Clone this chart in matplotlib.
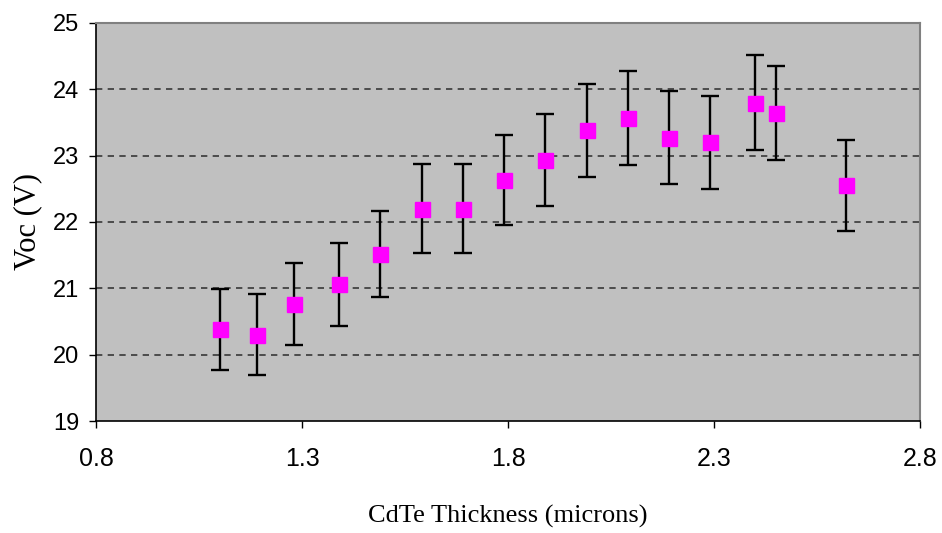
import matplotlib
matplotlib.use("Agg")
from matplotlib import pyplot as plt

thickness = [1.10, 1.19, 1.28, 1.39, 1.49, 1.59, 1.69, 1.79, 1.89, 1.99, 2.09, 2.19, 2.29, 2.40, 2.45, 2.62]
voc = [20.38, 20.30, 20.76, 21.06, 21.52, 22.20, 22.20, 22.63, 22.93, 23.38, 23.57, 23.27, 23.20, 23.80, 23.64, 22.55]
voc_err = [0.61, 0.61, 0.62, 0.63, 0.65, 0.67, 0.67, 0.68, 0.69, 0.70, 0.71, 0.70, 0.70, 0.72, 0.71, 0.68]

x_ticks = [0.8, 1.3, 1.8, 2.3, 2.8]
y_ticks = [19, 20, 21, 22, 23, 24, 25]

fig = plt.figure(figsize=(9.42, 5.33), dpi=100)
ax = fig.add_axes([0.102, 0.210, 0.875, 0.747])
ax.set_facecolor("#c0c0c0")

ax.errorbar(thickness, voc, yerr=voc_err, fmt="s", color="#ff00ff", markersize=10.8,
            ecolor="black", elinewidth=1.7, capsize=6.3, capthick=1.7, zorder=3)

ax.set_xlim(0.8, 2.8)
ax.set_ylim(19, 25)
ax.set_xticks(x_ticks)
ax.set_xticklabels([str(t) for t in x_ticks])
ax.set_yticks(y_ticks)

# dashed grid only between the limits
for y in y_ticks[1:-1]:
    ax.axhline(y, color="#383838", linestyle=(0, (3.8, 3.2)), linewidth=1.2, zorder=1)

for s in ["left", "bottom"]:
    ax.spines[s].set_color("black")
    ax.spines[s].set_linewidth(1.2)
for s in ["top", "right"]:
    ax.spines[s].set_color("#808080")
    ax.spines[s].set_linewidth(1.5)

ax.tick_params(axis="both", direction="out", length=5, width=1)
ax.tick_params(axis="y", labelsize=17, pad=7)
ax.tick_params(axis="x", labelsize=18, pad=14)
for lab in ax.get_xticklabels() + ax.get_yticklabels():
    lab.set_fontfamily("Liberation Sans")

ax.set_xlabel("CdTe Thickness (microns)", fontfamily="Liberation Serif", fontsize=19, labelpad=24)
ax.set_ylabel("Voc (V)", fontfamily="Liberation Serif", fontsize=22, labelpad=8)

fig.savefig("out.png", dpi=100)
